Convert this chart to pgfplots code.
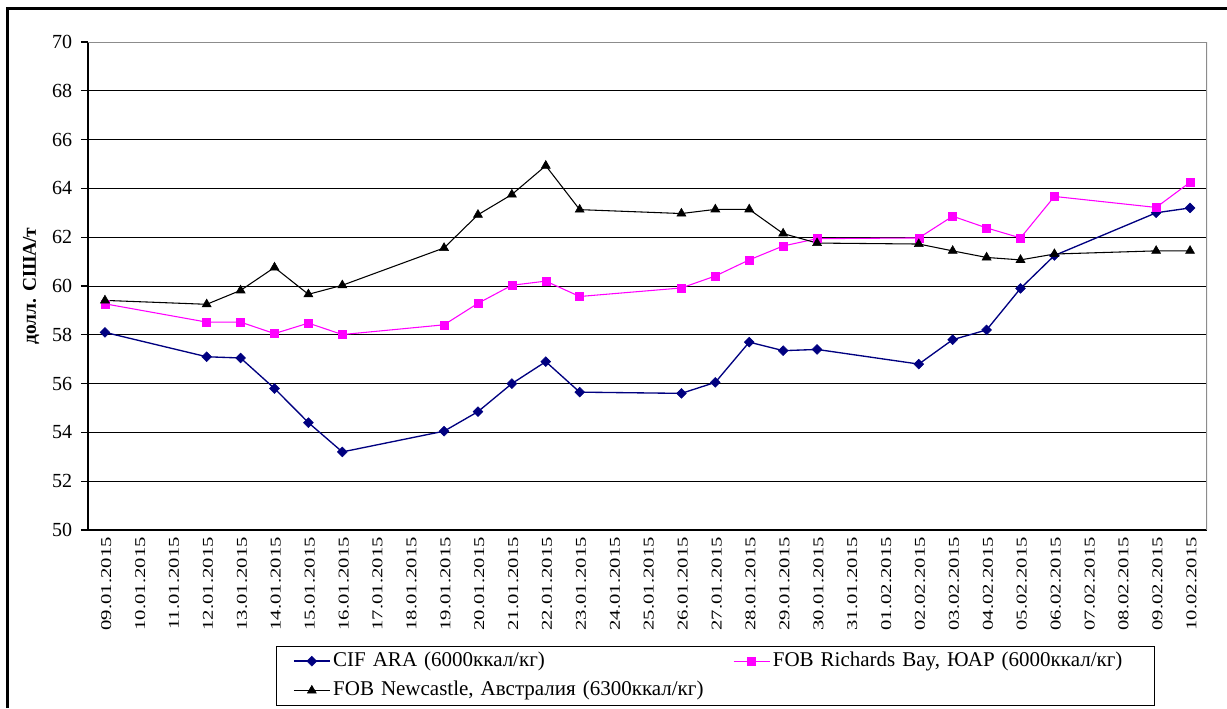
\documentclass[border=0pt]{standalone}
\usepackage{fontspec}
\setmainfont{Liberation Serif}
\newfontfamily\xfont[FakeStretch=1.38]{Liberation Serif}
\usepackage{pgfplots}
\pgfplotsset{compat=1.18}
\definecolor{cifnavy}{HTML}{000080}
\definecolor{rbmag}{HTML}{FF00FF}
\definecolor{frgray}{HTML}{8C8C8C}
\begin{document}
\begin{tikzpicture}
\useasboundingbox (0pt,0pt) rectangle (920.25pt,531pt);
\draw[line width=1.7pt] (5.6pt,0pt) -- (5.6pt,524.6pt) -- (920.25pt,524.6pt);
\begin{axis}[
  at={(66pt,133.5pt)}, anchor=south west,
  scale only axis, width=839.25pt, height=366pt,
  xmin=-0.5, xmax=32.5, ymin=50, ymax=70,
  ytick={50,52,...,70},
  xtick={0,...,32},
  xticklabels={09.01.2015,10.01.2015,11.01.2015,12.01.2015,13.01.2015,14.01.2015,15.01.2015,16.01.2015,17.01.2015,18.01.2015,19.01.2015,20.01.2015,21.01.2015,22.01.2015,23.01.2015,24.01.2015,25.01.2015,26.01.2015,27.01.2015,28.01.2015,29.01.2015,30.01.2015,31.01.2015,01.02.2015,02.02.2015,03.02.2015,04.02.2015,05.02.2015,06.02.2015,07.02.2015,08.02.2015,09.02.2015,10.02.2015},
  minor xtick={-0.5,0.5,...,32.5},
  xtick style={draw=none},
  minor x tick style={black, line width=0.8pt},
  ytick style={black, line width=0.8pt},
  major tick length=5.25pt, minor tick length=4.5pt,
  tick align=outside, xtick pos=bottom, ytick pos=left,
  axis x line*=bottom, axis y line*=left,
  axis line style={black, line width=0.9pt, -},
  ymajorgrids, major grid style={black, line width=0.75pt},
  /pgf/number format/assume math mode=true,
  yticklabel style={font=\fontsize{15}{16}\selectfont, inner sep=0pt, xshift=-6.5pt},
  xticklabel style={font=\xfont\fontsize{11.25}{12}\selectfont, rotate=90, anchor=east, inner sep=0pt, yshift=-1pt},
  ylabel={долл. США/т},
  every axis y label/.style={at={(axis description cs:-0.0509,0.5)}, rotate=90, anchor=center, font=\bfseries\fontsize{14.6}{16}\selectfont},
  legend columns=2,
  legend style={at={(0.1683,-0.2375)}, anchor=north west, draw=black, line width=0.75pt,
    font=\fontsize{15.75}{18}\selectfont, inner xsep=12.25pt, inner ysep=0pt,
    nodes={inner sep=2pt, text height=11pt, text depth=3.5pt, inner ysep=3.8pt},
    /tikz/column 2/.append style={text width=298pt, align=left},
    /tikz/column 4/.append style={text width=272pt, align=left}},
  legend image code/.code={\draw[mark repeat=2,mark phase=2] plot coordinates {(0pt,0pt) (13.5pt,0pt) (27pt,0pt)};},
]
\addplot[cifnavy, line width=1pt, mark=square*, mark size=2.6pt, mark options={rotate=45, solid, fill=cifnavy, line width=0.4pt}] coordinates {
(0,58.1) (3,57.1) (4,57.05) (5,55.8) (6,54.4) (7,53.2) (10,54.05) (11,54.85) (12,56.0) (13,56.9) (14,55.65) (17,55.6) (18,56.05) (19,57.7) (20,57.35) (21,57.4) (24,56.8) (25,57.8) (26,58.2) (27,59.9) (28,61.25) (31,63.0) (32,63.2)};
\addlegendentry{CIF ARA (6000ккал/кг)}
\addplot[rbmag, line width=0.8pt, mark=square*, mark size=3pt, mark options={solid, fill=rbmag, line width=0.4pt}] coordinates {
(0,59.27) (3,58.52) (4,58.52) (5,58.05) (6,58.48) (7,58.01) (10,58.41) (11,59.29) (12,60.03) (13,60.2) (14,59.57) (17,59.92) (18,60.41) (19,61.07) (20,61.64) (21,61.94) (24,61.97) (25,62.86) (26,62.38) (27,61.97) (28,63.67) (31,63.22) (32,64.25)};
\addlegendentry{FOB Richards Bay, ЮАР (6000ккал/кг)}
\addplot[black, line width=0.8pt, mark=triangle*, mark size=3.9pt, mark options={solid, fill=black, line width=0.4pt}] coordinates {
(0,59.41) (3,59.25) (4,59.82) (5,60.76) (6,59.66) (7,60.03) (10,61.56) (11,62.92) (12,63.75) (13,64.93) (14,63.13) (17,62.97) (18,63.14) (19,63.14) (20,62.15) (21,61.76) (24,61.72) (25,61.44) (26,61.17) (27,61.07) (28,61.31) (31,61.44) (32,61.44)};
\addlegendentry{FOB Newcastle, Австралия (6300ккал/кг)}
\draw[frgray, line width=0.9pt] (rel axis cs:0,1) -- (rel axis cs:1,1) -- (rel axis cs:1,0);
\end{axis}
\end{tikzpicture}
\end{document}
